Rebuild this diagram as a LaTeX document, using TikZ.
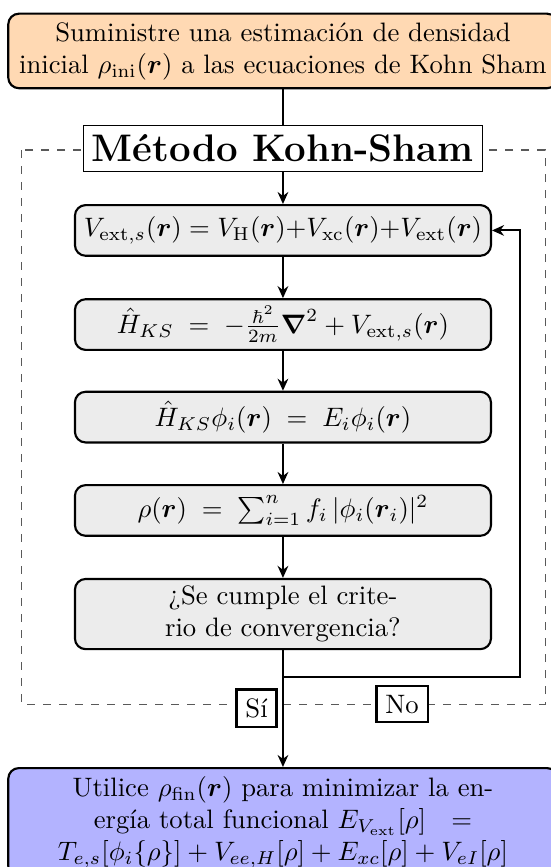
\documentclass[tikz,border=0pt]{standalone}
\usepackage{amsmath}
\usepackage{amssymb}
\usepackage{xcolor}
\usepackage{tikz}
\usetikzlibrary{arrows.meta, positioning, backgrounds}
\definecolor{naranja}{HTML}{FFD9B3}
\definecolor{lila}{HTML}{B3B3FF}
\definecolor{gris}{HTML}{ECECEC}

\begin{document}
\begin{tikzpicture}[
  paso/.style={rectangle, rounded corners=4pt, draw, thick, fill=gris,
               align=center, minimum width=156pt, minimum height=19pt,
               inner xsep=2pt, inner ysep=2.6pt},
  extremo/.style={rectangle, rounded corners=4pt, draw, thick,
                  align=center, minimum width=206pt, inner sep=3.2pt},
  titulo/.style={rectangle, draw, fill=white, font=\Large\bfseries},
  etiq/.style={rectangle, draw, thick, fill=white},
  marco/.style={dashed, black!65},
  ar/.style={-{Stealth[length=4.5pt, width=4pt]}, thick},
  ln/.style={thick}]
\useasboundingbox (0,0) rectangle (206.25pt,-325.1pt);
\node[extremo, fill=naranja] (ini) at (106.1pt,-19.1pt)
  {Suministre una estimación de densidad\\inicial $\rho_{\mathrm{ini}}(\boldsymbol{r})$ a las ecuaciones de Kohn Sham};
\node[titulo] (tit) at (106.1pt,-55.7pt) {Método Kohn-Sham};
\node[paso] (v1) at (106.1pt,-86.4pt)
  {$V_{\mathrm{ext},s}(\boldsymbol{r}) = V_{\mathrm{H}}(\boldsymbol{r}){+}V_{\mathrm{xc}}(\boldsymbol{r}){+}V_{\mathrm{ext}}(\boldsymbol{r})$};
\node[paso] (v2) at (106.1pt,-121.7pt)
  {$\hat{H}_{KS}\;=\;-\frac{\hbar^2}{2m}\boldsymbol{\nabla}^2 + V_{\mathrm{ext},s}(\boldsymbol{r})$};
\node[paso] (v3) at (106.1pt,-156.4pt)
  {$\hat{H}_{KS}\phi_i(\boldsymbol{r})\;=\;E_i\phi_i(\boldsymbol{r})$};
\node[paso] (v4) at (106.1pt,-191.4pt)
  {$\rho(\boldsymbol{r})\;=\;\sum_{i=1}^{n} f_i\,|\phi_i(\boldsymbol{r}_i)|^2$};
\node[paso] (v5) at (106.1pt,-230.25pt) {¿Se cumple el crite-\\rio de convergencia?};
\node[extremo, fill=lila, anchor=north] (fin) at (106.1pt,-287.6pt)
  {Utilice $\rho_{\mathrm{fin}}(\boldsymbol{r})$ para minimizar la en-\\ergía total funcional $E_{V_{\mathrm{ext}}}[\rho]\ \ =$\\$T_{e,s}[\phi_i\{\rho\}] + V_{ee,H}[\rho] + E_{xc}[\rho] + V_{eI}[\rho]$};
\begin{scope}[on background layer]
\draw[marco] (7.9pt,-56.25pt) rectangle (204.4pt,-264pt);
\end{scope}
\node[etiq] (si) at (96.2pt,-265.5pt) {Sí};
\node[etiq] (no) at (150.75pt,-264pt) {No};
\coordinate[below=10pt of v5] (rama);
\draw[ln] (ini) -- (tit);
\draw[ar] (tit) -- (v1);
\draw[ar] (v1) -- (v2);
\draw[ar] (v2) -- (v3);
\draw[ar] (v3) -- (v4);
\draw[ar] (v4) -- (v5);
\draw[ar] (v5) -- (fin);
\draw[ar] (rama) -| ([xshift=10.5pt]v1.east) -- (v1.east);
\end{tikzpicture}
\end{document}
